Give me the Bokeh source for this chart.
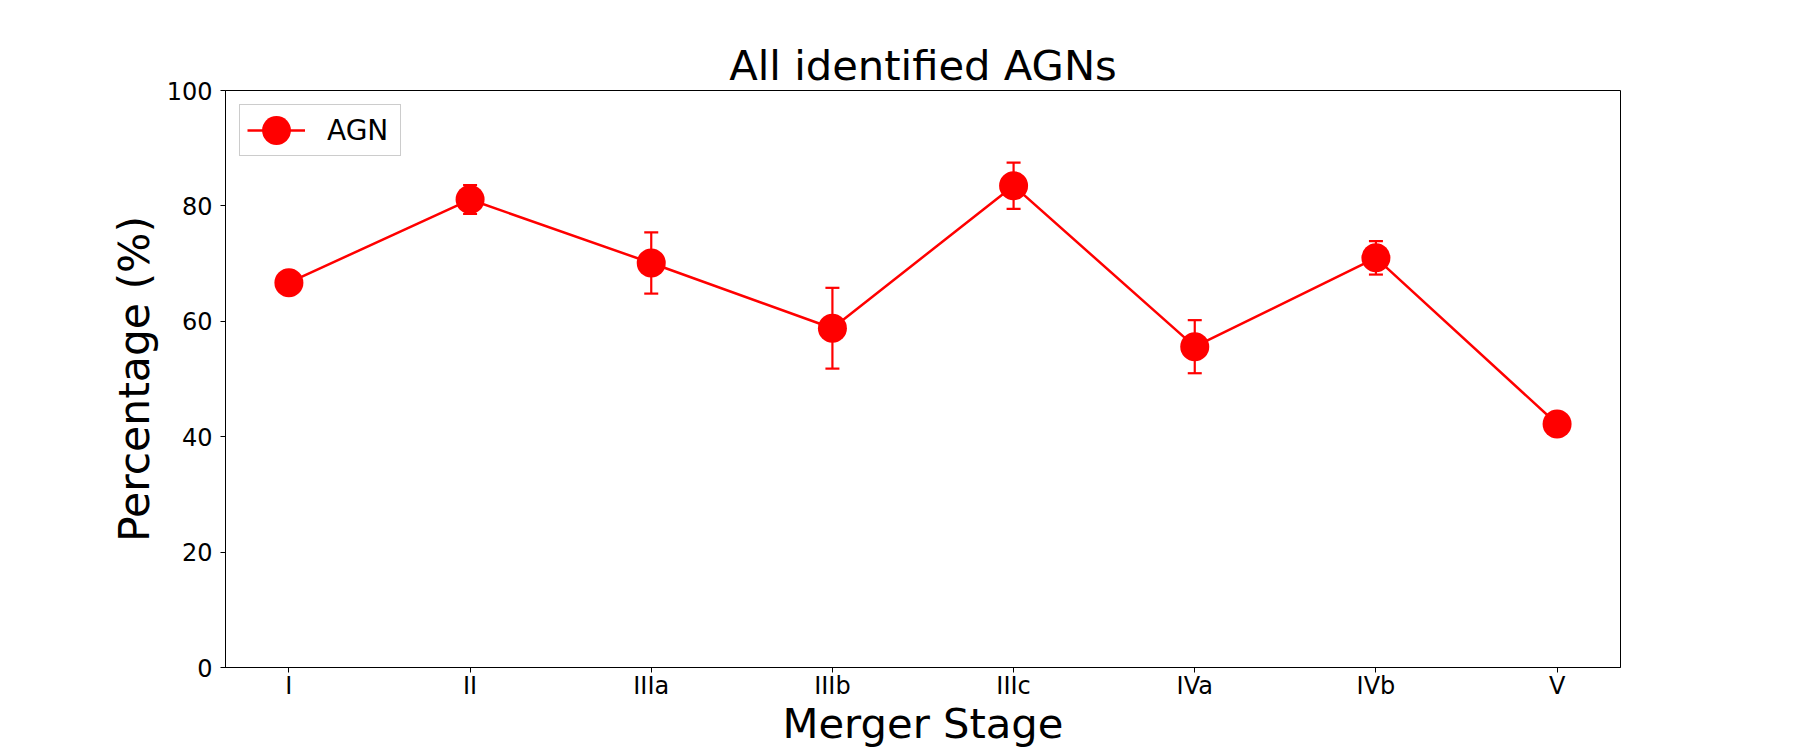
from bokeh.plotting import figure
from bokeh.models import (ColumnDataSource, Whisker, TeeHead, FixedTicker, Legend,
                          LegendItem, Range1d)
from bokeh.embed import file_html
from bokeh.resources import INLINE

# ---- data ----
stages = ["I", "II", "IIIa", "IIIb", "IIIc", "IVa", "IVb", "V"]
percent = [66.7, 81.1, 70.1, 58.8, 83.5, 55.6, 71.0, 42.2]
error = [0.0, 2.5, 5.3, 7.0, 4.0, 4.6, 2.9, 0.0]
y_ticks = [0, 20, 40, 60, 80, 100]

title_text = "All identified AGNs"
x_label = "Merger Stage"
y_label = "Percentage (%)"
series_name = "AGN"

FONT = "DejaVu Sans"
RED = "#ff0000"

xpos = list(range(len(stages)))
src = ColumnDataSource(dict(
    x=xpos,
    y=percent,
    upper=[v + e for v, e in zip(percent, error)],
    lower=[v - e for v, e in zip(percent, error)],
))

p = figure(width=1800, height=750, output_backend="svg", toolbar_location=None,
           x_range=Range1d(-0.35, len(stages) - 1 + 0.35), y_range=Range1d(0, 100),
           min_border_left=225, min_border_right=180,
           min_border_top=90, min_border_bottom=83)
p.background_fill_color = "white"
p.border_fill_color = "white"
p.outline_line_color = "black"
p.outline_line_width = 1
p.outline_line_alpha = 1
p.xgrid.visible = False
p.ygrid.visible = False

p.title.text = title_text
p.title.align = "center"
p.title.text_font = FONT
p.title.text_font_size = "41.7px"
p.title.text_font_style = "normal"
p.title.text_color = "black"
p.title.standoff = 2

# error bars (drawn beneath line and markers)
head_kw = dict(size=14, line_color=RED, line_width=2.2)
p.add_layout(Whisker(source=src, base="x", upper="upper", lower="lower",
                     line_color=RED, line_width=2.2,
                     upper_head=TeeHead(**head_kw), lower_head=TeeHead(**head_kw)))

r_line = p.line("x", "y", source=src, line_color=RED, line_width=2.5)
r_pts = p.ellipse("x", "y", width=29, height=29, width_units="screen",
                  height_units="screen", source=src,
                  fill_color=RED, line_color=RED, line_width=0)

legend = Legend(items=[LegendItem(label=series_name, renderers=[r_line, r_pts])],
                location="top_left", margin=14, padding=7,
                glyph_width=58, glyph_height=36, label_standoff=22, label_width=66,
                label_text_font=FONT, label_text_font_size="28px",
                label_text_color="black",
                border_line_color="#cccccc", border_line_width=1, border_line_alpha=1,
                background_fill_color="white", background_fill_alpha=0.8)
p.add_layout(legend)

for ax in (p.xaxis[0], p.yaxis[0]):
    ax.axis_line_color = "black"
    ax.axis_line_width = 1
    ax.major_tick_line_color = "black"
    ax.major_tick_line_width = 1
    ax.major_tick_out = 5
    ax.major_tick_in = 0
    ax.minor_tick_out = 0
    ax.minor_tick_in = 0
    ax.major_label_text_font = FONT
    ax.major_label_text_font_size = "24px"
    ax.major_label_text_color = "black"
    ax.axis_label_text_font = FONT
    ax.axis_label_text_font_size = "41.7px"
    ax.axis_label_text_font_style = "normal"
    ax.axis_label_text_color = "black"

p.xaxis.ticker = FixedTicker(ticks=xpos)
p.xaxis.major_label_overrides = {i: s for i, s in zip(xpos, stages)}
p.xaxis.axis_label = x_label
p.xaxis.major_label_standoff = -1
p.xaxis.axis_label_standoff = -4

p.yaxis.ticker = FixedTicker(ticks=y_ticks)
p.yaxis.axis_label = y_label
p.yaxis.axis_label_text_font_size = "42.5px"
p.yaxis.major_label_standoff = 8
p.yaxis.axis_label_standoff = 5

open("out.html", "w").write(file_html(p, INLINE))
